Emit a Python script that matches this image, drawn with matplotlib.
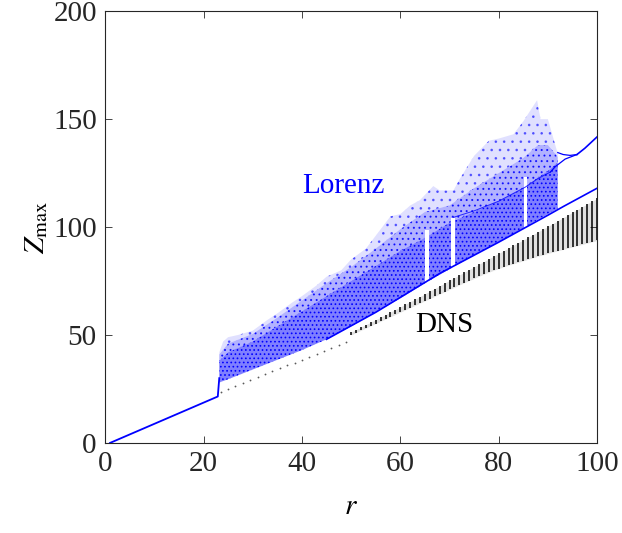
import matplotlib
matplotlib.use('Agg')
from matplotlib import pyplot as plt
import numpy as np

# Lorenz model: stable fixed point branch (Z = r - 1 up to the onset of chaos)
fp_r = [1.0, 22.9, 23.2]
fp_z = [0.0, 21.5, 30.0]

# Lorenz chaotic cloud, envelopes
cloud_r = [23.2, 25, 30, 35, 40, 45, 50, 55, 60, 65, 70, 75, 80, 85, 88, 90, 92]
cloud_low = [28, 29.5, 34, 38.5, 43, 48, 54, 60.5, 67, 74, 80.5, 87, 93, 99.5, 103.5, 106, 108.5]
cloud_dense = [38, 42, 47, 54, 61, 68, 75, 82, 89, 95, 102, 107, 112, 118, 123, 126, 130]
cloud_mid = [41, 46, 50.5, 58, 66, 74, 81.5, 90, 99, 107, 110, 118, 125, 132, 138, 138, 132.5]
top_r = [23.2, 24, 25, 27, 30, 33, 35, 38, 40, 43, 45, 48, 50, 53, 55, 58, 60, 62,
         64, 66.7, 68, 70.8, 72, 75, 78, 80, 83, 85, 87.8, 88.5, 90, 91, 92]
top_z = [42, 47, 49, 50, 52, 57, 60, 65, 68, 73, 77, 80, 85, 90, 96, 105, 106, 110,
         112.5, 119, 117, 117, 122, 133, 140, 141, 143, 149, 158.8, 150, 150, 142, 134]

# periodic branches of the Lorenz model
low_branch_r = [45, 55, 68, 80, 90, 93.2, 100]
low_branch_z = [48, 60.5, 78.5, 93, 105.5, 109.6, 118]
up_branch_r = [95.9, 97.5, 100]
up_branch_z = [133.6, 136.5, 141.8]
fork_hi_r = [92.0, 93.1, 94.5, 95.9]
fork_hi_z = [134.5, 133.6, 133.2, 133.6]
fork_lo_r = [90.5, 91.5, 93.5, 95.9]
fork_lo_z = [125.5, 128, 131.5, 133.6]
arc_r = [70.8, 75, 80, 85.4, 88, 90.5]
arc_z = [104.5, 107.5, 112, 118.5, 122.5, 125.5]

# periodic windows inside the chaotic band
win_r0 = [65.0, 70.4, 85.1]
win_r1 = [65.8, 71.2, 85.8]
win_z0 = [74.5, 81.0, 100.0]
win_z1 = [98.6, 104.0, 123.0]

# DNS: single maxima before r = 50
dns_dot_r = [23.5, 25, 26.5, 28, 29.5, 31, 32.5, 34, 35.5, 37, 38.5, 40, 41.5, 43, 44.5, 46, 47.5, 49]
dns_dot_z = [23.6, 25.0, 26.3, 27.6, 29.0, 30.4, 31.7, 33.1, 34.5, 35.9, 37.2, 38.6, 40.0, 41.3, 42.7, 44.0, 45.4, 46.9]

# DNS: spread of maxima for r = 50 ... 100
dns_r = list(range(50, 101))
dns_low = [50.0, 51.1, 52.2, 53.2, 54.3, 55.3, 56.4, 57.4, 58.5, 59.5,
           60.6, 61.6, 62.7, 63.7, 64.8, 65.8, 66.9, 67.9, 69.0, 70.0,
           71.1, 72.1, 73.2, 74.2, 75.2, 76.2, 77.2, 78.2, 79.1, 80.0,
           80.8, 81.6, 82.3, 83.0, 83.7, 84.4, 85.1, 85.8, 86.5, 87.1,
           87.8, 88.4, 89.0, 89.6, 90.2, 90.8, 91.4, 92.0, 92.6, 93.2, 93.8]
dns_high = [51.3, 52.5, 53.6, 54.8, 55.9, 57.1, 58.2, 59.4, 60.6, 61.8,
            63.0, 64.2, 65.4, 66.6, 67.8, 69.0, 70.3, 71.5, 72.8, 74.0,
            75.3, 76.5, 77.8, 79.0, 80.3, 81.5, 82.8, 84.0, 85.3, 86.5,
            87.8, 89.0, 90.3, 91.5, 92.8, 94.0, 95.3, 96.5, 97.8, 99.0,
            100.3, 101.6, 102.9, 104.2, 105.5, 106.8, 108.1, 109.4, 110.7, 112.0, 113.3]

plt.rcParams.update({'font.size': 21,
                     'font.family': 'Liberation Serif',
                     'mathtext.fontset': 'stix',
                     'hatch.linewidth': 0.7,
                     'xtick.direction': 'in',
                     'ytick.direction': 'in'})

fig = plt.figure(figsize=(6.22, 5.33), dpi=100)
ax = fig.add_axes([0.169, 0.169, 0.791, 0.810])

blue = (0, 0, 1)

# DNS
ax.fill_between(dns_r, dns_low, dns_high, color='0.88', lw=0)
ax.vlines(dns_r, dns_low, dns_high, color='k', lw=1.1)
ax.plot(dns_dot_r, dns_dot_z, 'o', ms=1.3, color='0.35', mec='none')

# Lorenz
ax.plot(fp_r, fp_z, '-', color=blue, lw=1.3)
sparse_x = np.concatenate([cloud_r, top_r[::-1]])
sparse_y = np.concatenate([cloud_mid, top_z[::-1]])
ax.fill(sparse_x, sparse_y, facecolor=(0, 0, 1, 0.12),
        edgecolor=(0, 0, 1, 0.5), hatch='..', lw=0)
ax.fill_between(cloud_r, cloud_dense, cloud_mid, facecolor=(0, 0, 1, 0.3),
                edgecolor=(0, 0, 1, 0.8), hatch='...', lw=0)
ax.fill_between(cloud_r, cloud_low, cloud_dense, facecolor=(0, 0, 1, 0.5),
                edgecolor=blue, hatch='....', lw=0)
for r0, r1, z0, z1 in zip(win_r0, win_r1, win_z0, win_z1):
    ax.fill_between([r0, r1], [z0, z0], [z1, z1], color='white', lw=0)
ax.plot(low_branch_r, low_branch_z, '-', color=blue, lw=1.2)
ax.plot(up_branch_r, up_branch_z, '-', color=blue, lw=1.2)
ax.plot(fork_hi_r, fork_hi_z, '-', color=blue, lw=0.9)
ax.plot(fork_lo_r, fork_lo_z, '-', color=blue, lw=0.9)
ax.plot(arc_r, arc_z, '-', color=blue, lw=0.7, alpha=0.8)

ax.text(48.5, 119, 'Lorenz', color=blue, ha='center', va='center')
ax.text(69, 54.5, 'DNS', color='k', ha='center', va='center')

ax.set_xlim(0, 100)
ax.set_ylim(0, 200)
ax.set_xticks([0, 20, 40, 60, 80, 100])
ax.set_yticks([0, 50, 100, 150, 200])
ax.tick_params(top=True, right=True, length=5, width=0.6, colors='0.15', pad=6)
for s in ax.spines.values():
    s.set_linewidth(0.8)
    s.set_color('0.15')
ax.set_xlabel(r'$r$', labelpad=12)
ax.set_ylabel(r'$Z_{\max}$', labelpad=2)

fig.savefig('out.png', dpi=100)
